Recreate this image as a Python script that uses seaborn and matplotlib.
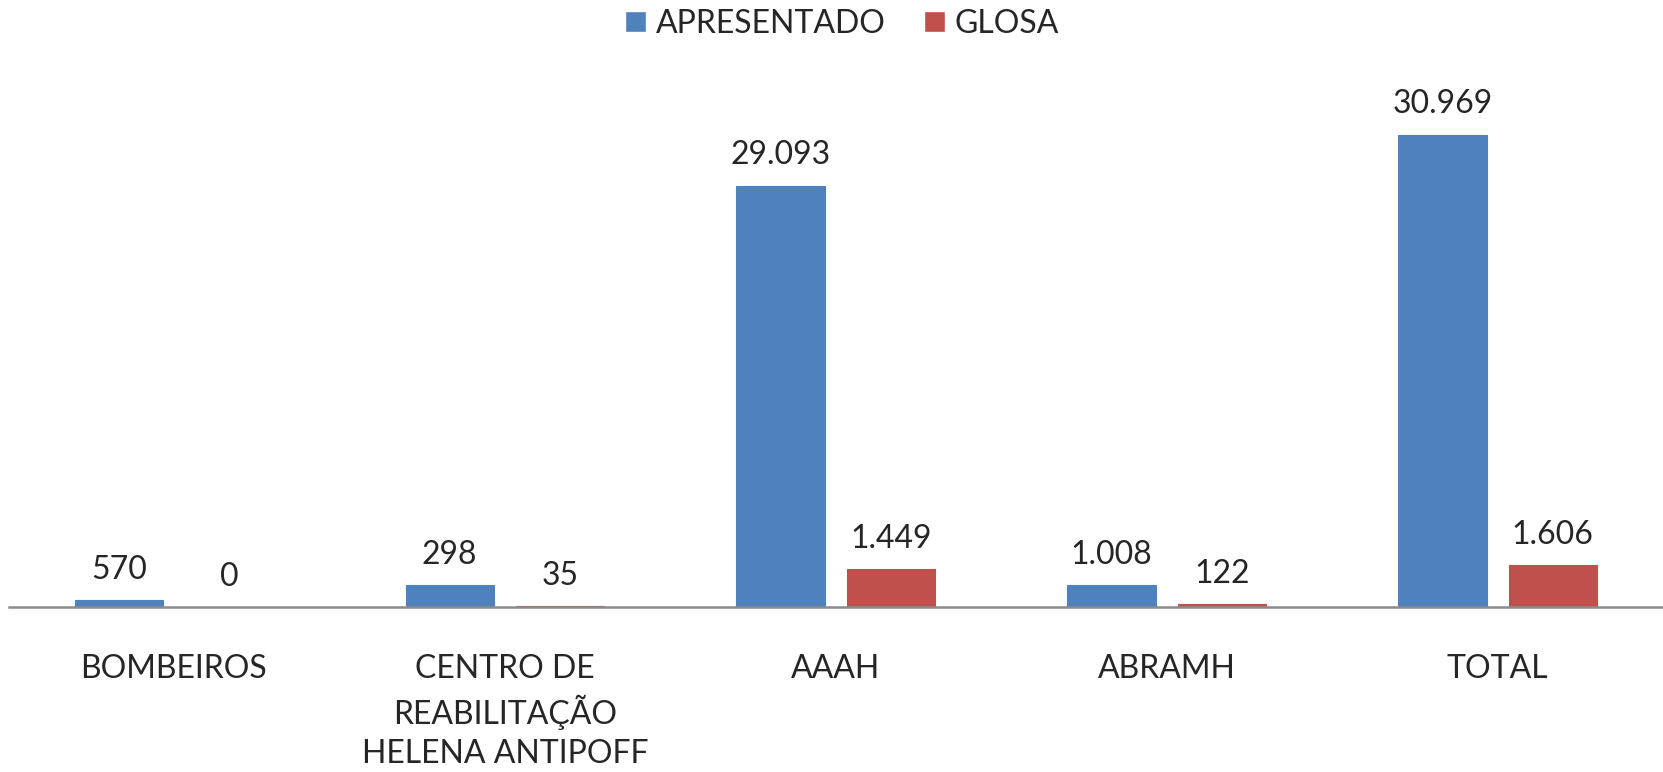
import pandas as pd
import numpy as np
import matplotlib
matplotlib.use("Agg")
import matplotlib.pyplot as plt
import seaborn as sns

# Data

categorias = ["BOMBEIROS", "CENTRO DE\nREABILITAÇÃO\nHELENA ANTIPOFF", "AAAH", "ABRAMH", "TOTAL"]
series = ["APRESENTADO", "GLOSA"]

# values printed on the bars
apresentado_rotulo = [570, 298, 29093, 1008, 30969]
glosa_rotulo = [0, 35, 1449, 122, 1606]

# bar heights as drawn in the picture (blue bars do not follow their labels)
apresentado_altura = [270, 840, 16100, 840, 18050]
glosa_altura = [0, 35, 1449, 122, 1606]

cores = ["#4F81BD", "#C0504D"]

df = pd.DataFrame({
    "categoria": categorias * 2,
    "serie": [series[0]] * len(categorias) + [series[1]] * len(categorias),
    "valor": apresentado_altura + glosa_altura,
})

# Plot

sns.set_style("white")
plt.rcParams["font.family"] = ["Lato", "DejaVu Sans"]

fig = plt.figure(figsize=(16.63, 7.72), dpi=100)
ax = fig.add_axes([8.5 / 1663, 1 - 607 / 772, 1 - 8.5 / 1663, 547 / 772])

sns.barplot(
    data=df, x="categoria", y="valor", hue="serie",
    palette=cores, width=0.667, gap=0.2, ax=ax,
    saturation=1, errorbar=None,
)

handles, labels = ax.get_legend_handles_labels()
ax.get_legend().remove()

# thin outline in the bar colour so tiny values still show as a line
for cont, cor in zip(ax.containers, cores):
    for b in cont:
        if b.get_height() > 0:
            b.set_edgecolor(cor)
            b.set_linewidth(0.8)

def fmt(v):
    return f"{v:,}".replace(",", ".")

for cont, rot in zip(ax.containers, [apresentado_rotulo, glosa_rotulo]):
    ax.bar_label(cont, labels=[fmt(v) for v in rot], padding=11, fontsize=23)

ax.set_xlim(-0.5, 4.5)
ax.set_ylim(0, 20900)
ax.set_xlabel("")
ax.set_ylabel("")
ax.set_yticks([])
ax.tick_params(axis="x", length=0, pad=34, labelsize=23)
for lab in ax.get_xticklabels():
    lab.set_linespacing(1.37)

for s in ["top", "right", "left"]:
    ax.spines[s].set_visible(False)
ax.spines["bottom"].set_color("#8C8C8C")
ax.spines["bottom"].set_linewidth(1.8)
ax.spines["bottom"].set_zorder(3)

fig.legend(
    handles, labels, loc="center", bbox_to_anchor=(842 / 1663, 1 - 24 / 772),
    ncol=2, frameon=False, fontsize=23,
    handlelength=0.65, handleheight=0.65, handletextpad=0.3,
    columnspacing=1.2, borderpad=0,
)

fig.savefig("out.png", dpi=100)
